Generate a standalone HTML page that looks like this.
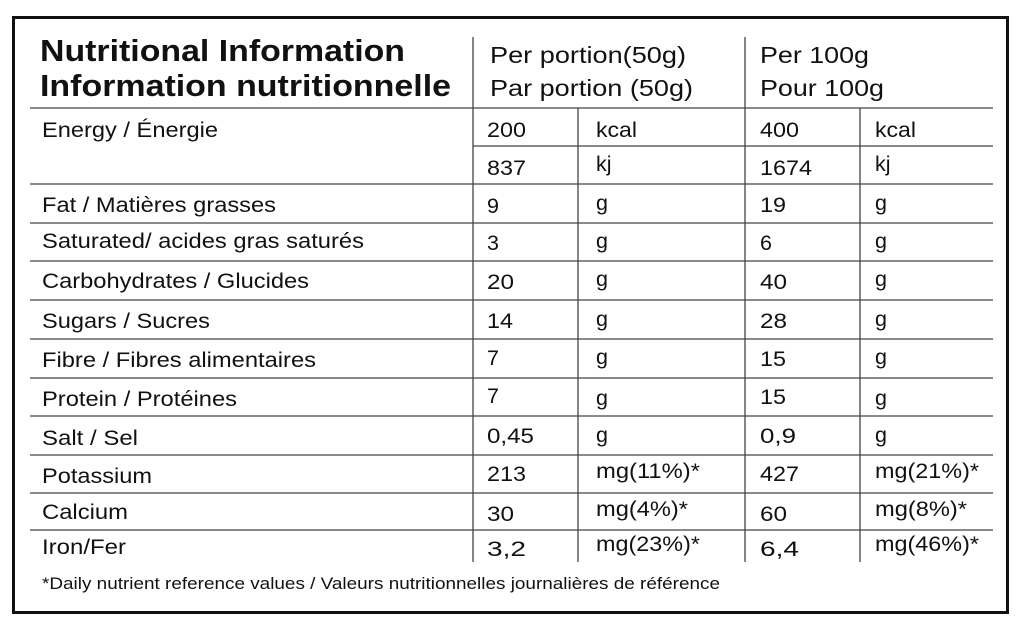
<!DOCTYPE html><html><head><style>body{margin:0;background:#fff}</style></head><body>
<svg width="1024" height="626" xmlns="http://www.w3.org/2000/svg" font-family="Liberation Sans, Arial, sans-serif" fill="#111">
<rect x="13.5" y="17.5" width="994" height="595" fill="none" stroke="#111" stroke-width="3"/>
<g stroke="#444" stroke-width="1.3">
<line x1="30" y1="108" x2="993" y2="108"/>
<line x1="473" y1="146" x2="993" y2="146"/>
<line x1="30" y1="184" x2="993" y2="184"/>
<line x1="30" y1="223" x2="993" y2="223"/>
<line x1="30" y1="261" x2="993" y2="261"/>
<line x1="30" y1="300" x2="993" y2="300"/>
<line x1="30" y1="339" x2="993" y2="339"/>
<line x1="30" y1="378" x2="993" y2="378"/>
<line x1="30" y1="416" x2="993" y2="416"/>
<line x1="30" y1="455" x2="993" y2="455"/>
<line x1="30" y1="493" x2="993" y2="493"/>
<line x1="30" y1="530" x2="993" y2="530"/>
<line x1="473" y1="37" x2="473" y2="562"/>
<line x1="745" y1="37" x2="745" y2="562"/>
<line x1="578" y1="108" x2="578" y2="562"/>
<line x1="860" y1="108" x2="860" y2="562"/>
</g>
<g font-weight="bold" font-size="31">
<text x="40" y="61" textLength="365" lengthAdjust="spacingAndGlyphs">Nutritional Information</text>
<text x="40" y="96" textLength="411" lengthAdjust="spacingAndGlyphs">Information nutritionnelle</text>
</g>
<g font-size="23.5">
<text x="490" y="63" textLength="196" lengthAdjust="spacingAndGlyphs">Per portion(50g)</text>
<text x="490" y="96" textLength="203" lengthAdjust="spacingAndGlyphs">Par portion (50g)</text>
<text x="760" y="63" textLength="109" lengthAdjust="spacingAndGlyphs">Per 100g</text>
<text x="760" y="96" textLength="124" lengthAdjust="spacingAndGlyphs">Pour 100g</text>
</g>
<g font-size="21.5">
<text x="42" y="137" textLength="176" lengthAdjust="spacingAndGlyphs">Energy / Énergie</text>
<text x="487" y="137" textLength="39" lengthAdjust="spacingAndGlyphs">200</text><text x="596" y="137" textLength="41" lengthAdjust="spacingAndGlyphs">kcal</text><text x="760" y="137" textLength="39" lengthAdjust="spacingAndGlyphs">400</text><text x="875" y="137" textLength="41" lengthAdjust="spacingAndGlyphs">kcal</text>
<text x="487" y="175" textLength="39" lengthAdjust="spacingAndGlyphs">837</text><text x="596" y="171">kj</text><text x="760" y="175" textLength="52" lengthAdjust="spacingAndGlyphs">1674</text><text x="875" y="171">kj</text>
<text x="42" y="212" textLength="234" lengthAdjust="spacingAndGlyphs">Fat / Matières grasses</text><text x="487" y="213">9</text><text x="596" y="210">g</text><text x="760" y="212" textLength="26" lengthAdjust="spacingAndGlyphs">19</text><text x="875" y="210">g</text>
<text x="42" y="248" textLength="322" lengthAdjust="spacingAndGlyphs">Saturated/ acides gras saturés</text><text x="487" y="250">3</text><text x="596" y="248">g</text><text x="760" y="250">6</text><text x="875" y="248">g</text>
<text x="42" y="288" textLength="267" lengthAdjust="spacingAndGlyphs">Carbohydrates / Glucides</text><text x="487" y="289" textLength="27" lengthAdjust="spacingAndGlyphs">20</text><text x="596" y="286">g</text><text x="760" y="289" textLength="27" lengthAdjust="spacingAndGlyphs">40</text><text x="875" y="286">g</text>
<text x="42" y="328" textLength="168" lengthAdjust="spacingAndGlyphs">Sugars / Sucres</text><text x="487" y="328" textLength="26" lengthAdjust="spacingAndGlyphs">14</text><text x="596" y="326">g</text><text x="760" y="328" textLength="27" lengthAdjust="spacingAndGlyphs">28</text><text x="875" y="326">g</text>
<text x="42" y="367" textLength="274" lengthAdjust="spacingAndGlyphs">Fibre / Fibres alimentaires</text><text x="487" y="365">7</text><text x="596" y="364">g</text><text x="760" y="366" textLength="26" lengthAdjust="spacingAndGlyphs">15</text><text x="875" y="364">g</text>
<text x="42" y="406" textLength="195" lengthAdjust="spacingAndGlyphs">Protein / Protéines</text><text x="487" y="403">7</text><text x="596" y="405">g</text><text x="760" y="404" textLength="26" lengthAdjust="spacingAndGlyphs">15</text><text x="875" y="405">g</text>
<text x="42" y="445" textLength="96" lengthAdjust="spacingAndGlyphs">Salt / Sel</text><text x="487" y="443" textLength="47" lengthAdjust="spacingAndGlyphs">0,45</text><text x="596" y="442">g</text><text x="760" y="443" textLength="36" lengthAdjust="spacingAndGlyphs">0,9</text><text x="875" y="442">g</text>
<text x="42" y="483" textLength="110" lengthAdjust="spacingAndGlyphs">Potassium</text><text x="487" y="481" textLength="39" lengthAdjust="spacingAndGlyphs">213</text><text x="596" y="478" textLength="104" lengthAdjust="spacingAndGlyphs">mg(11%)*</text><text x="760" y="481" textLength="39" lengthAdjust="spacingAndGlyphs">427</text><text x="875" y="478" textLength="104" lengthAdjust="spacingAndGlyphs">mg(21%)*</text>
<text x="42" y="519" textLength="86" lengthAdjust="spacingAndGlyphs">Calcium</text><text x="487" y="521" textLength="27" lengthAdjust="spacingAndGlyphs">30</text><text x="596" y="516" textLength="92" lengthAdjust="spacingAndGlyphs">mg(4%)*</text><text x="760" y="521" textLength="27" lengthAdjust="spacingAndGlyphs">60</text><text x="875" y="516" textLength="92" lengthAdjust="spacingAndGlyphs">mg(8%)*</text>
<text x="42" y="554" textLength="84" lengthAdjust="spacingAndGlyphs">Iron/Fer</text><text x="487" y="556" textLength="39" lengthAdjust="spacingAndGlyphs">3,2</text><text x="596" y="551" textLength="104" lengthAdjust="spacingAndGlyphs">mg(23%)*</text><text x="760" y="556" textLength="39" lengthAdjust="spacingAndGlyphs">6,4</text><text x="875" y="551" textLength="104" lengthAdjust="spacingAndGlyphs">mg(46%)*</text>
</g>
<text x="42" y="589" font-size="17" textLength="678" lengthAdjust="spacingAndGlyphs">*Daily nutrient reference values / Valeurs nutritionnelles journalières de référence</text>
</svg>
</body></html>
